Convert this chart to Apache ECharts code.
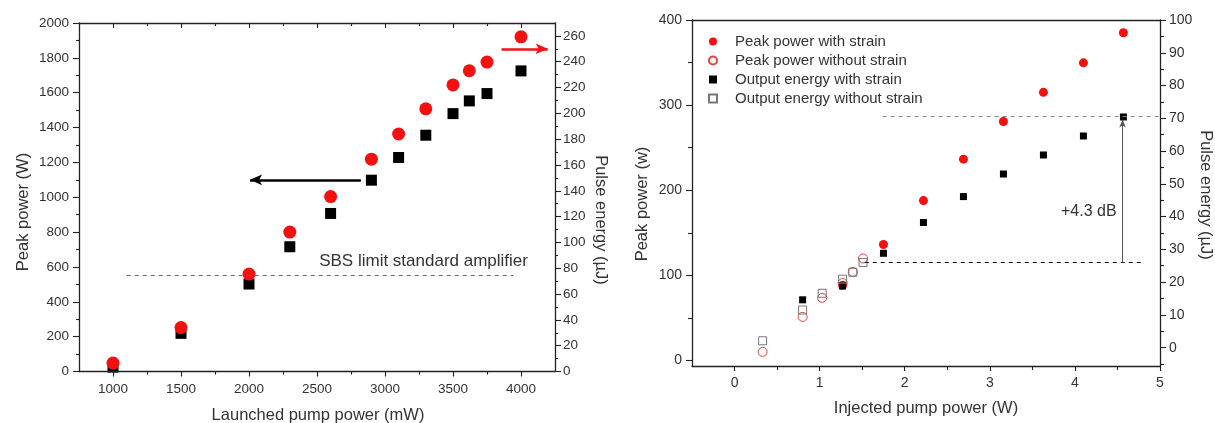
<!DOCTYPE html>
<html><head><meta charset="utf-8">
<script src="https://cdn.jsdelivr.net/npm/echarts@6/dist/echarts.min.js"></script>
<style>html,body{margin:0;padding:0;background:#fff}#c{width:1215px;height:423px}</style>
</head><body><div id="c"></div>
<script>
// ---------- Left chart data ----------
const pumpMW = [1000, 1500, 2000, 2300, 2600, 2900, 3100, 3300, 3500, 3620, 3750, 4000];
const peakPowerW = [25, 219, 502, 716, 907, 1098, 1228, 1356, 1480, 1553, 1595, 1725];
const pulseEnergyUJ = [6.5, 34, 75.5, 108, 135.5, 164.5, 184, 203.5, 222, 233, 239.7, 259.3];
const leftXTicks = [1000, 1500, 2000, 2500, 3000, 3500, 4000];
const leftXMinor = [1250, 1750, 2250, 2750, 3250, 3750];
const leftYTicks = [0, 200, 400, 600, 800, 1000, 1200, 1400, 1600, 1800, 2000];
const leftYMinor = [100, 300, 500, 700, 900, 1100, 1300, 1500, 1700, 1900];
const leftY2Ticks = [0, 20, 40, 60, 80, 100, 120, 140, 160, 180, 200, 220, 240, 260];
const leftY2Minor = [10, 30, 50, 70, 90, 110, 130, 150, 170, 190, 210, 230, 250];
const sbsLine = [[1100, 555], [3945, 555]];
const sbsLabelAt = [2516, 630];
const blackArrow = [[2823, 1100], [2008, 1100]];
const redArrow = [[3857, 250], [4196, 250]];

// ---------- Right chart data ----------
const injPeakStrainX = [1.27, 1.75, 2.22, 2.69, 3.16, 3.63, 4.10, 4.57];
const peakWithStrain = [88.5, 136.3, 187.8, 236.5, 280.8, 315, 349.7, 385];
const injPeakNoStrainX = [0.33, 0.80, 1.03, 1.27, 1.39, 1.51];
const peakWithoutStrain = [10.1, 51.2, 73.6, 91, 104.1, 119.9];
const injEnergyStrainX = [0.80, 1.27, 1.75, 2.22, 2.69, 3.16, 3.63, 4.10, 4.57];
const energyWithStrain = [14.6, 18.8, 28.8, 38.2, 46.1, 53.0, 58.8, 64.6, 70.4];
const injEnergyNoStrainX = [0.33, 0.80, 1.03, 1.27, 1.39, 1.51];
const energyWithoutStrain = [2.1, 11.5, 16.6, 20.9, 23.0, 26.0];
const rightXTicks = [0, 1, 2, 3, 4, 5];
const rightXMinor = [0.5, 1.5, 2.5, 3.5, 4.5];
const rightYTicks = [0, 100, 200, 300, 400];
const rightYMinor = [50, 150, 250, 350];
const rightY2Ticks = [0, 10, 20, 30, 40, 50, 60, 70, 80, 90, 100];
const rightY2Minor = [-5, 5, 15, 25, 35, 45, 55, 65, 75, 85, 95];
const upperDash = [[1.74, 70.7], [5, 70.7]];
const lowerDash = [[1.53, 26], [4.82, 26]];
const gainArrow = [[4.56, 26], [4.56, 69.6]];
const gainLabelAt = [4.49, 41.6];
const legendNames = ['Peak power with strain', 'Peak power without strain', 'Output energy with strain', 'Output energy without strain'];

const FONT = '"Liberation Sans", Arial, sans-serif';
const TXT = '#333';
const AX = '#222';
const RED = '#f50f0f';
const SQUARE = 'path://M0,0H10V10H0Z';

function axis(dim, o) {
  return {
    type: 'value', gridIndex: o.grid, position: o.pos, min: o.min, max: o.max,
    axisLine: { show: o.line !== false, onZero: false, lineStyle: { color: AX, width: 1.3 } },
    axisTick: { show: !!o.ticks, inside: !!o.inside, length: o.tl || 5, customValues: o.ticks,
                lineStyle: { color: AX, width: 1.1 } },
    axisLabel: o.labels ? { show: true, customValues: o.labels, color: TXT, fontSize: o.fs || 13,
                fontFamily: FONT, margin: o.margin || 8, formatter: v => String(v) } : { show: false },
    splitLine: { show: false }, minorTick: { show: false }, axisPointer: { show: false },
    z: 3
  };
}
const pairs = (xs, ys) => xs.map((x, i) => [x, ys[i]]);

const option = {
  animation: false,
  backgroundColor: '#fff',
  textStyle: { fontFamily: FONT },
  grid: [
    { left: 79, top: 23, width: 476, height: 348.5, outerBoundsMode: 'none', containLabel: false },
    { left: 692, top: 20, width: 468, height: 346, outerBoundsMode: 'none', containLabel: false }
  ],
  xAxis: [
    axis('x', { grid: 0, pos: 'bottom', min: 750, max: 4250, ticks: leftXTicks, labels: leftXTicks, tl: 5, fs: 13.5, margin: 11 }),
    axis('x', { grid: 0, pos: 'bottom', min: 750, max: 4250, ticks: leftXMinor, tl: 3, line: false }),
    axis('x', { grid: 0, pos: 'top', min: 750, max: 4250, ticks: leftXTicks, tl: 5, inside: true }),
    axis('x', { grid: 0, pos: 'top', min: 750, max: 4250, ticks: leftXMinor, tl: 3, inside: true, line: false }),
    axis('x', { grid: 1, pos: 'bottom', min: -0.5, max: 5, ticks: rightXTicks, labels: rightXTicks, tl: 5, fs: 14, margin: 10 }),
    axis('x', { grid: 1, pos: 'bottom', min: -0.5, max: 5, ticks: rightXMinor, tl: 4, line: false }),
    axis('x', { grid: 1, pos: 'top', min: -0.5, max: 5 })
  ],
  yAxis: [
    axis('y', { grid: 0, pos: 'left', min: 0, max: 2000, ticks: leftYTicks, labels: leftYTicks, tl: 6, fs: 13.5, margin: 10 }),
    axis('y', { grid: 0, pos: 'left', min: 0, max: 2000, ticks: leftYMinor, tl: 3, line: false }),
    axis('y', { grid: 0, pos: 'right', min: 0, max: 270, ticks: leftY2Ticks, labels: leftY2Ticks, tl: 6, fs: 13.5, margin: 8 }),
    axis('y', { grid: 0, pos: 'right', min: 0, max: 270, ticks: leftY2Minor, tl: 3, line: false }),
    axis('y', { grid: 1, pos: 'left', min: -6.5, max: 400, ticks: rightYTicks, labels: rightYTicks, tl: 6, fs: 14, margin: 10 }),
    axis('y', { grid: 1, pos: 'left', min: -6.5, max: 400, ticks: rightYMinor, tl: 4, line: false }),
    axis('y', { grid: 1, pos: 'right', min: -5.6, max: 100, ticks: rightY2Ticks, labels: rightY2Ticks, tl: 6, fs: 14, margin: 9 }),
    axis('y', { grid: 1, pos: 'right', min: -5.6, max: 100, ticks: rightY2Minor, tl: 4, line: false })
  ],
  legend: {
    orient: 'vertical', left: 708, top: 34, padding: 0, itemWidth: 34, itemHeight: 8, itemGap: 4,
    textStyle: { fontSize: 15, color: TXT, fontFamily: FONT },
    data: [
      { name: legendNames[0], icon: 'circle' },
      { name: legendNames[1], icon: 'circle' },
      { name: legendNames[2], icon: SQUARE },
      { name: legendNames[3], icon: SQUARE }
    ]
  },
  series: [
    {
      type: 'scatter', name: 'Peak power (left)', xAxisIndex: 0, yAxisIndex: 0,
      symbol: 'rect', symbolSize: 11, itemStyle: { color: '#000', opacity: 1 },
      data: pairs(pumpMW, peakPowerW),
      markLine: {
        silent: true, animation: false, label: { show: false }, symbol: ['none', 'none'],
        data: [
          [{ coord: sbsLine[0], lineStyle: { type: [4, 4], color: '#666', width: 1 } }, { coord: sbsLine[1] }],
          [{ coord: blackArrow[0], symbol: 'none', lineStyle: { type: 'solid', color: '#000', width: 2.5 } },
           { coord: blackArrow[1], symbol: 'arrow', symbolSize: [8, 12] }]
        ]
      },
      markPoint: {
        silent: true, animation: false, symbol: 'circle', symbolSize: 0,
        data: [{ coord: sbsLabelAt, label: { show: true, position: 'right', distance: 0,
          formatter: 'SBS limit standard amplifier', fontSize: 17, color: TXT, fontFamily: FONT } }]
      }
    },
    {
      type: 'scatter', name: 'Pulse energy (right)', xAxisIndex: 0, yAxisIndex: 2,
      symbol: 'circle', symbolSize: 13, itemStyle: { color: RED, opacity: 1 },
      data: pairs(pumpMW, pulseEnergyUJ),
      markLine: {
        silent: true, animation: false, label: { show: false }, symbol: ['none', 'none'],
        data: [
          [{ coord: redArrow[0], symbol: 'none', lineStyle: { type: 'solid', color: RED, width: 2.5 } },
           { coord: redArrow[1], symbol: 'arrow', symbolSize: [8, 12] }]
        ]
      }
    },
    {
      type: 'scatter', name: legendNames[0], xAxisIndex: 4, yAxisIndex: 4,
      symbol: 'circle', symbolSize: 9, itemStyle: { color: RED, opacity: 1 },
      data: pairs(injPeakStrainX, peakWithStrain)
    },
    {
      type: 'scatter', name: legendNames[1], xAxisIndex: 4, yAxisIndex: 4,
      symbol: 'circle', symbolSize: 9,
      itemStyle: { color: 'rgba(255,255,255,0)', borderColor: '#e84040', borderWidth: 1, opacity: 1 },
      data: pairs(injPeakNoStrainX, peakWithoutStrain)
    },
    {
      type: 'scatter', name: legendNames[2], xAxisIndex: 4, yAxisIndex: 6,
      symbol: 'rect', symbolSize: 7, itemStyle: { color: '#000', opacity: 1 },
      data: pairs(injEnergyStrainX, energyWithStrain),
      markLine: {
        silent: true, animation: false, label: { show: false }, symbol: ['none', 'none'],
        data: [
          [{ coord: upperDash[0], lineStyle: { type: [4, 4], color: '#888', width: 1.2 } }, { coord: upperDash[1] }],
          [{ coord: lowerDash[0], lineStyle: { type: [4, 4], color: '#111', width: 1.2 } }, { coord: lowerDash[1] }],
          [{ coord: gainArrow[0], symbol: 'none', lineStyle: { type: 'solid', color: '#555', width: 1 } },
           { coord: gainArrow[1], symbol: 'arrow', symbolSize: [5, 8] }]
        ]
      },
      markPoint: {
        silent: true, animation: false, symbol: 'circle', symbolSize: 0,
        data: [{ coord: gainLabelAt, label: { show: true, position: 'left', distance: 0,
          formatter: '+4.3 dB', fontSize: 16, color: TXT, fontFamily: FONT } }]
      }
    },
    {
      type: 'scatter', name: legendNames[3], xAxisIndex: 4, yAxisIndex: 6,
      symbol: 'rect', symbolSize: 8,
      itemStyle: { color: 'rgba(255,255,255,0)', borderColor: '#777', borderWidth: 1, opacity: 1 },
      data: pairs(injEnergyNoStrainX, energyWithoutStrain)
    }
  ],
  graphic: [
    { type: 'text', x: 23, y: 212, rotation: Math.PI / 2,
      style: { text: 'Peak power (W)', font: '16.5px ' + FONT, fill: TXT, textAlign: 'center', textVerticalAlign: 'middle' } },
    { type: 'text', x: 318, y: 415,
      style: { text: 'Launched pump power (mW)', font: '16.5px ' + FONT, fill: TXT, textAlign: 'center', textVerticalAlign: 'middle' } },
    { type: 'text', x: 601, y: 220, rotation: -Math.PI / 2,
      style: { text: 'Pulse energy (µJ)', font: '16.5px ' + FONT, fill: TXT, textAlign: 'center', textVerticalAlign: 'middle' } },
    { type: 'text', x: 642, y: 204, rotation: Math.PI / 2,
      style: { text: 'Peak power (w)', font: '16.5px ' + FONT, fill: TXT, textAlign: 'center', textVerticalAlign: 'middle' } },
    { type: 'text', x: 926, y: 408,
      style: { text: 'Injected pump power (W)', font: '16.5px ' + FONT, fill: TXT, textAlign: 'center', textVerticalAlign: 'middle' } },
    { type: 'text', x: 1206, y: 195, rotation: -Math.PI / 2,
      style: { text: 'Pulse energy (µJ)', font: '16.5px ' + FONT, fill: TXT, textAlign: 'center', textVerticalAlign: 'middle' } }
  ]
};
const chart = echarts.init(document.getElementById('c'));
chart.setOption(option);
</script>
</body></html>
